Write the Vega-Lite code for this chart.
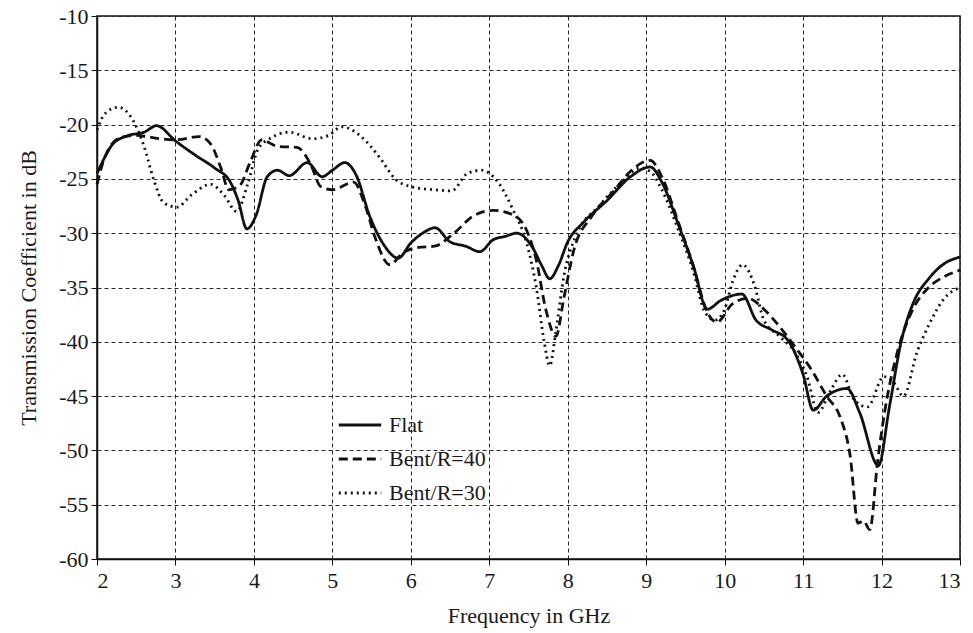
{
  "$schema": "https://vega.github.io/schema/vega-lite/v6.json",
  "width": 863,
  "height": 543,
  "autosize": {"type": "none"},
  "padding": {"left": 97, "top": 16, "right": 13, "bottom": 74},
  "background": "white",
  "config": {
    "view": {"stroke": "#111", "strokeWidth": 1.5},
    "font": "Liberation Serif",
    "axis": {
      "labelFont": "Liberation Serif",
      "titleFont": "Liberation Serif",
      "labelFontSize": 22,
      "titleFontSize": 22,
      "labelColor": "#1a1a1a",
      "titleColor": "#1a1a1a",
      "titleFontWeight": "normal",
      "domainColor": "#111",
      "domainWidth": 1.5,
      "tickColor": "#111",
      "tickSize": 6,
      "grid": true,
      "gridColor": "#2a2a2a",
      "gridDash": [4, 3],
      "gridWidth": 1,
      "gridOpacity": 1
    }
  },
  "data": {
    "values": [
      {"f": 2.0, "db": -24.5, "s": "Flat"},
      {"f": 2.1, "db": -23.0, "s": "Flat"},
      {"f": 2.2, "db": -21.8, "s": "Flat"},
      {"f": 2.4, "db": -21.0, "s": "Flat"},
      {"f": 2.6, "db": -20.7, "s": "Flat"},
      {"f": 2.76, "db": -20.1, "s": "Flat"},
      {"f": 3.0, "db": -21.5, "s": "Flat"},
      {"f": 3.25, "db": -22.8, "s": "Flat"},
      {"f": 3.5, "db": -24.0, "s": "Flat"},
      {"f": 3.7, "db": -25.3, "s": "Flat"},
      {"f": 3.8, "db": -27.0, "s": "Flat"},
      {"f": 3.91, "db": -29.6, "s": "Flat"},
      {"f": 4.03, "db": -28.3, "s": "Flat"},
      {"f": 4.17, "db": -24.8, "s": "Flat"},
      {"f": 4.3, "db": -24.2, "s": "Flat"},
      {"f": 4.45, "db": -24.7, "s": "Flat"},
      {"f": 4.68, "db": -23.5, "s": "Flat"},
      {"f": 4.87, "db": -24.8, "s": "Flat"},
      {"f": 5.0, "db": -24.2, "s": "Flat"},
      {"f": 5.16, "db": -23.5, "s": "Flat"},
      {"f": 5.3, "db": -24.6, "s": "Flat"},
      {"f": 5.48, "db": -28.5, "s": "Flat"},
      {"f": 5.65, "db": -31.0, "s": "Flat"},
      {"f": 5.84, "db": -32.3, "s": "Flat"},
      {"f": 6.0, "db": -30.9, "s": "Flat"},
      {"f": 6.15, "db": -30.0, "s": "Flat"},
      {"f": 6.31, "db": -29.5, "s": "Flat"},
      {"f": 6.5, "db": -30.8, "s": "Flat"},
      {"f": 6.7, "db": -31.2, "s": "Flat"},
      {"f": 6.88, "db": -31.7, "s": "Flat"},
      {"f": 7.05, "db": -30.6, "s": "Flat"},
      {"f": 7.2, "db": -30.3, "s": "Flat"},
      {"f": 7.35, "db": -30.0, "s": "Flat"},
      {"f": 7.55, "db": -31.3, "s": "Flat"},
      {"f": 7.67, "db": -33.0, "s": "Flat"},
      {"f": 7.77, "db": -34.2, "s": "Flat"},
      {"f": 7.88, "db": -33.0, "s": "Flat"},
      {"f": 8.0, "db": -30.8, "s": "Flat"},
      {"f": 8.2, "db": -29.0, "s": "Flat"},
      {"f": 8.5, "db": -27.0, "s": "Flat"},
      {"f": 8.8, "db": -24.8, "s": "Flat"},
      {"f": 9.05, "db": -23.9, "s": "Flat"},
      {"f": 9.2, "db": -25.3, "s": "Flat"},
      {"f": 9.4, "db": -29.0, "s": "Flat"},
      {"f": 9.6, "db": -33.0, "s": "Flat"},
      {"f": 9.78, "db": -37.0, "s": "Flat"},
      {"f": 9.95, "db": -36.2, "s": "Flat"},
      {"f": 10.22, "db": -35.6, "s": "Flat"},
      {"f": 10.4, "db": -38.0, "s": "Flat"},
      {"f": 10.6, "db": -38.9, "s": "Flat"},
      {"f": 10.8, "db": -39.8, "s": "Flat"},
      {"f": 11.0, "db": -43.0, "s": "Flat"},
      {"f": 11.13, "db": -46.3, "s": "Flat"},
      {"f": 11.3, "db": -45.0, "s": "Flat"},
      {"f": 11.56, "db": -44.3, "s": "Flat"},
      {"f": 11.72, "db": -46.5, "s": "Flat"},
      {"f": 11.96, "db": -51.4, "s": "Flat"},
      {"f": 12.1, "db": -46.0, "s": "Flat"},
      {"f": 12.25, "db": -40.0, "s": "Flat"},
      {"f": 12.4, "db": -36.5, "s": "Flat"},
      {"f": 12.6, "db": -34.2, "s": "Flat"},
      {"f": 12.8, "db": -32.8, "s": "Flat"},
      {"f": 13.0, "db": -32.2, "s": "Flat"},

      {"f": 2.0, "db": -25.5, "s": "Bent/R=40"},
      {"f": 2.1, "db": -23.0, "s": "Bent/R=40"},
      {"f": 2.3, "db": -21.2, "s": "Bent/R=40"},
      {"f": 2.5, "db": -21.0, "s": "Bent/R=40"},
      {"f": 2.8, "db": -21.3, "s": "Bent/R=40"},
      {"f": 3.0, "db": -21.4, "s": "Bent/R=40"},
      {"f": 3.3, "db": -21.1, "s": "Bent/R=40"},
      {"f": 3.45, "db": -21.8, "s": "Bent/R=40"},
      {"f": 3.58, "db": -24.0, "s": "Bent/R=40"},
      {"f": 3.68, "db": -26.0, "s": "Bent/R=40"},
      {"f": 3.82, "db": -25.6, "s": "Bent/R=40"},
      {"f": 3.95, "db": -23.5, "s": "Bent/R=40"},
      {"f": 4.1, "db": -21.4, "s": "Bent/R=40"},
      {"f": 4.3, "db": -22.0, "s": "Bent/R=40"},
      {"f": 4.55, "db": -22.1, "s": "Bent/R=40"},
      {"f": 4.72, "db": -23.6, "s": "Bent/R=40"},
      {"f": 4.85, "db": -25.7, "s": "Bent/R=40"},
      {"f": 5.0, "db": -26.0, "s": "Bent/R=40"},
      {"f": 5.27, "db": -25.3, "s": "Bent/R=40"},
      {"f": 5.42, "db": -27.5, "s": "Bent/R=40"},
      {"f": 5.55, "db": -30.5, "s": "Bent/R=40"},
      {"f": 5.73, "db": -32.9, "s": "Bent/R=40"},
      {"f": 5.9, "db": -31.8, "s": "Bent/R=40"},
      {"f": 6.1, "db": -31.3, "s": "Bent/R=40"},
      {"f": 6.3, "db": -31.2, "s": "Bent/R=40"},
      {"f": 6.55, "db": -30.0, "s": "Bent/R=40"},
      {"f": 6.8, "db": -28.4, "s": "Bent/R=40"},
      {"f": 7.05, "db": -27.9, "s": "Bent/R=40"},
      {"f": 7.3, "db": -28.3, "s": "Bent/R=40"},
      {"f": 7.48, "db": -29.8, "s": "Bent/R=40"},
      {"f": 7.6, "db": -32.5, "s": "Bent/R=40"},
      {"f": 7.72, "db": -37.0, "s": "Bent/R=40"},
      {"f": 7.85, "db": -39.5, "s": "Bent/R=40"},
      {"f": 7.95, "db": -36.0, "s": "Bent/R=40"},
      {"f": 8.08, "db": -31.5, "s": "Bent/R=40"},
      {"f": 8.3, "db": -28.5, "s": "Bent/R=40"},
      {"f": 8.6, "db": -26.0, "s": "Bent/R=40"},
      {"f": 8.8, "db": -24.3, "s": "Bent/R=40"},
      {"f": 9.05, "db": -23.3, "s": "Bent/R=40"},
      {"f": 9.2, "db": -24.8, "s": "Bent/R=40"},
      {"f": 9.4, "db": -28.8, "s": "Bent/R=40"},
      {"f": 9.6, "db": -33.0, "s": "Bent/R=40"},
      {"f": 9.78, "db": -37.3, "s": "Bent/R=40"},
      {"f": 9.9, "db": -38.2, "s": "Bent/R=40"},
      {"f": 10.1, "db": -36.5, "s": "Bent/R=40"},
      {"f": 10.3, "db": -36.0, "s": "Bent/R=40"},
      {"f": 10.5, "db": -37.0, "s": "Bent/R=40"},
      {"f": 10.7, "db": -38.6, "s": "Bent/R=40"},
      {"f": 10.9, "db": -40.5, "s": "Bent/R=40"},
      {"f": 11.1, "db": -42.5, "s": "Bent/R=40"},
      {"f": 11.3, "db": -45.0, "s": "Bent/R=40"},
      {"f": 11.47, "db": -46.9, "s": "Bent/R=40"},
      {"f": 11.6, "db": -50.5, "s": "Bent/R=40"},
      {"f": 11.7, "db": -56.7, "s": "Bent/R=40"},
      {"f": 11.77, "db": -56.5, "s": "Bent/R=40"},
      {"f": 11.85, "db": -57.3, "s": "Bent/R=40"},
      {"f": 11.95, "db": -51.0, "s": "Bent/R=40"},
      {"f": 12.05, "db": -46.0, "s": "Bent/R=40"},
      {"f": 12.2, "db": -41.0, "s": "Bent/R=40"},
      {"f": 12.4, "db": -37.0, "s": "Bent/R=40"},
      {"f": 12.6, "db": -35.0, "s": "Bent/R=40"},
      {"f": 12.8, "db": -34.0, "s": "Bent/R=40"},
      {"f": 13.0, "db": -33.4, "s": "Bent/R=40"},

      {"f": 2.0, "db": -20.5, "s": "Bent/R=30"},
      {"f": 2.1, "db": -19.0, "s": "Bent/R=30"},
      {"f": 2.27, "db": -18.4, "s": "Bent/R=30"},
      {"f": 2.45, "db": -19.5, "s": "Bent/R=30"},
      {"f": 2.6, "db": -22.0, "s": "Bent/R=30"},
      {"f": 2.72, "db": -25.0, "s": "Bent/R=30"},
      {"f": 2.85, "db": -27.2, "s": "Bent/R=30"},
      {"f": 3.02, "db": -27.6, "s": "Bent/R=30"},
      {"f": 3.2, "db": -26.5, "s": "Bent/R=30"},
      {"f": 3.45, "db": -25.5, "s": "Bent/R=30"},
      {"f": 3.62, "db": -26.5, "s": "Bent/R=30"},
      {"f": 3.78, "db": -28.0, "s": "Bent/R=30"},
      {"f": 3.92, "db": -25.5, "s": "Bent/R=30"},
      {"f": 4.05, "db": -22.3, "s": "Bent/R=30"},
      {"f": 4.2, "db": -21.3, "s": "Bent/R=30"},
      {"f": 4.45, "db": -20.7, "s": "Bent/R=30"},
      {"f": 4.75, "db": -21.3, "s": "Bent/R=30"},
      {"f": 4.95, "db": -21.0, "s": "Bent/R=30"},
      {"f": 5.12, "db": -20.2, "s": "Bent/R=30"},
      {"f": 5.35, "db": -21.0, "s": "Bent/R=30"},
      {"f": 5.6, "db": -23.0, "s": "Bent/R=30"},
      {"f": 5.8, "db": -25.0, "s": "Bent/R=30"},
      {"f": 6.0, "db": -25.7, "s": "Bent/R=30"},
      {"f": 6.3, "db": -26.0, "s": "Bent/R=30"},
      {"f": 6.52, "db": -26.1, "s": "Bent/R=30"},
      {"f": 6.72, "db": -24.5, "s": "Bent/R=30"},
      {"f": 6.9, "db": -24.2, "s": "Bent/R=30"},
      {"f": 7.1, "db": -25.2, "s": "Bent/R=30"},
      {"f": 7.3, "db": -27.8, "s": "Bent/R=30"},
      {"f": 7.48, "db": -31.0, "s": "Bent/R=30"},
      {"f": 7.6, "db": -35.0, "s": "Bent/R=30"},
      {"f": 7.7, "db": -40.0, "s": "Bent/R=30"},
      {"f": 7.77, "db": -42.2, "s": "Bent/R=30"},
      {"f": 7.85, "db": -39.0, "s": "Bent/R=30"},
      {"f": 7.95, "db": -34.0, "s": "Bent/R=30"},
      {"f": 8.1, "db": -30.3, "s": "Bent/R=30"},
      {"f": 8.4, "db": -27.5, "s": "Bent/R=30"},
      {"f": 8.7, "db": -25.2, "s": "Bent/R=30"},
      {"f": 8.92, "db": -24.0, "s": "Bent/R=30"},
      {"f": 9.05, "db": -24.3, "s": "Bent/R=30"},
      {"f": 9.2, "db": -26.0, "s": "Bent/R=30"},
      {"f": 9.4, "db": -29.5, "s": "Bent/R=30"},
      {"f": 9.6, "db": -33.5, "s": "Bent/R=30"},
      {"f": 9.75, "db": -37.3, "s": "Bent/R=30"},
      {"f": 9.88, "db": -38.0, "s": "Bent/R=30"},
      {"f": 10.0, "db": -37.0, "s": "Bent/R=30"},
      {"f": 10.1, "db": -34.5, "s": "Bent/R=30"},
      {"f": 10.23, "db": -32.9, "s": "Bent/R=30"},
      {"f": 10.38, "db": -34.8, "s": "Bent/R=30"},
      {"f": 10.5, "db": -38.0, "s": "Bent/R=30"},
      {"f": 10.7, "db": -39.5, "s": "Bent/R=30"},
      {"f": 10.9, "db": -41.0, "s": "Bent/R=30"},
      {"f": 11.05, "db": -43.2, "s": "Bent/R=30"},
      {"f": 11.19, "db": -46.5, "s": "Bent/R=30"},
      {"f": 11.35, "db": -44.5, "s": "Bent/R=30"},
      {"f": 11.5, "db": -43.0, "s": "Bent/R=30"},
      {"f": 11.65, "db": -45.3, "s": "Bent/R=30"},
      {"f": 11.82, "db": -46.0, "s": "Bent/R=30"},
      {"f": 12.03, "db": -43.2, "s": "Bent/R=30"},
      {"f": 12.15, "db": -43.7, "s": "Bent/R=30"},
      {"f": 12.28, "db": -45.0, "s": "Bent/R=30"},
      {"f": 12.45, "db": -41.0, "s": "Bent/R=30"},
      {"f": 12.6, "db": -38.5, "s": "Bent/R=30"},
      {"f": 12.8, "db": -36.0, "s": "Bent/R=30"},
      {"f": 13.0, "db": -35.0, "s": "Bent/R=30"}
    ]
  },
  "mark": {"type": "line", "interpolate": "monotone", "color": "#111", "strokeWidth": 2.8},
  "encoding": {
    "x": {
      "field": "f",
      "type": "quantitative",
      "scale": {"domain": [2, 13], "nice": false, "zero": false},
      "axis": {"values": [2,3,4,5,6,7,8,9,10,11,12,13], "labelPadding": 5, "title": "Frequency in GHz", "titlePadding": 14}
    },
    "y": {
      "field": "db",
      "type": "quantitative",
      "scale": {"domain": [-60, -10], "nice": false, "zero": false},
      "axis": {"values": [-60,-55,-50,-45,-40,-35,-30,-25,-20,-15,-10], "labelExpr": "replace(datum.label, '\u2212', '-')", "labelPadding": 3, "title": "Transmission Coefficient in dB", "titlePadding": 18}
    },
    "strokeDash": {
      "field": "s",
      "type": "nominal",
      "scale": {"domain": ["Flat", "Bent/R=40", "Bent/R=30"], "range": [[1, 0], [9, 5], [2, 4]]},
      "legend": {
        "title": null,
        "orient": "none",
        "legendX": 240,
        "legendY": 386,
        "padding": 0,
        "symbolType": "stroke",
        "symbolSize": 1800,
        "symbolStrokeWidth": 2.8,
        "symbolStrokeColor": "#111",
        "labelFont": "Liberation Serif",
        "labelFontSize": 22,
        "labelColor": "#1a1a1a",
        "labelOffset": 6,
        "rowPadding": -10
      }
    }
  }
}
